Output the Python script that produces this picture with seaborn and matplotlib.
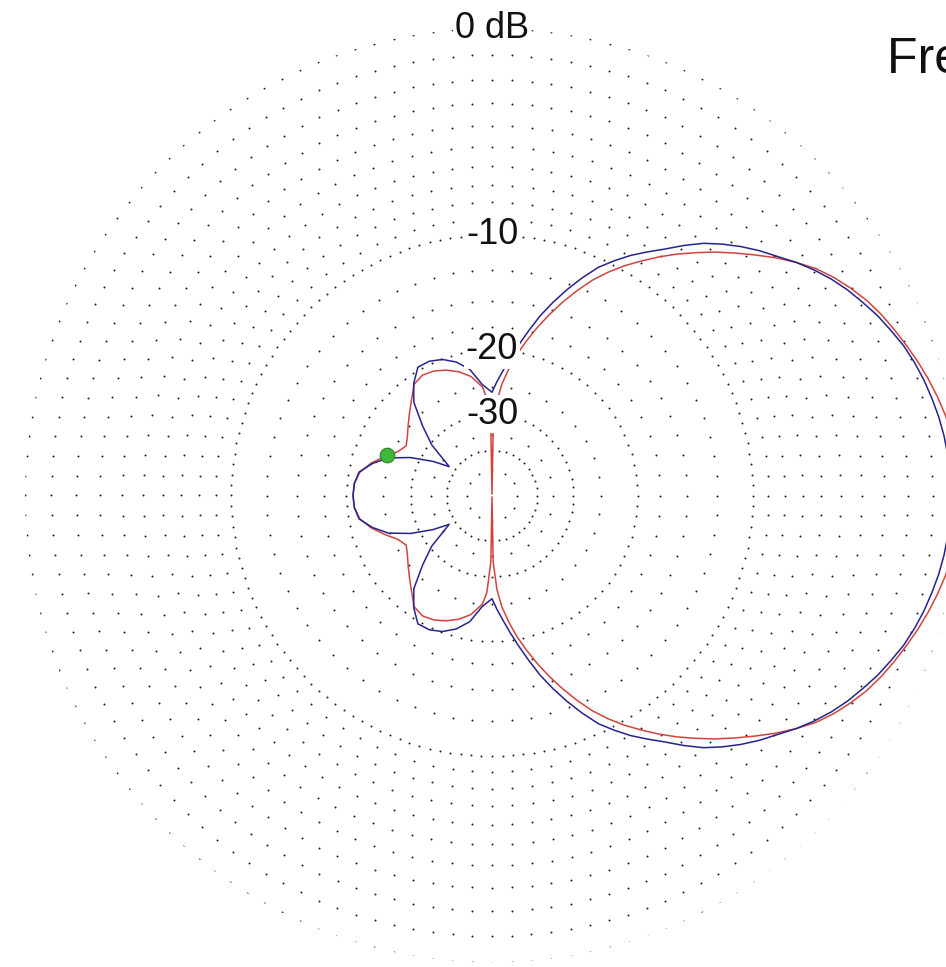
import numpy as np
import pandas as pd
import matplotlib
matplotlib.use("Agg")
import matplotlib.pyplot as plt
import seaborn as sns

sns.set_theme(style="white")
plt.rcParams['font.family'] = ['Liberation Sans', 'DejaVu Sans']

# Azimuth pattern, trace 1 (blue): angle in degrees, gain in dB re. outer ring
blue_az_top = [0, 2.5, 5, 7.5, 10, 12.5, 15, 17.5, 20, 22.5, 25, 27.5, 30, 32.5,
               35, 37.5, 40, 42.5, 45, 47.5, 50, 52.5, 55, 57.5, 60, 62.5, 65,
               67.5, 70, 72.5, 75, 77.5, 80, 82.5, 85, 87.5, 90,
               95, 100, 105, 110, 115, 120, 125, 130, 135, 140, 146, 150, 155,
               160, 165, 170, 175, 180]
blue_db_top = [-0.30, -0.31, -0.35, -0.41, -0.50, -0.62, -0.75, -0.91, -1.10,
               -1.35, -1.60, -1.90, -2.20, -2.55, -2.95, -3.40, -3.90, -4.35,
               -4.85, -5.40, -6.00, -6.75, -7.55, -8.25, -8.95, -9.75, -10.6,
               -11.75, -13.0, -14.35, -15.8, -17.5, -19.2, -20.9, -22.6, -24.2,
               -25.9,
               -24.6, -22.2, -20.9, -20.1, -19.7, -19.7, -21.1, -23.1, -26.8,
               -30.6, -37.8, -33.0, -28.3, -24.8, -22.8, -21.3, -20.9, -20.8]
blue_az_bottom = [185, 190, 195, 200, 205, 210, 214, 220, 225, 230, 235, 240,
                  245, 250, 255, 260, 265, 270,
                  272.5, 275, 277.5, 280, 282.5, 285, 287.5, 290, 292.5, 295,
                  297.5, 300, 302.5, 305, 307.5, 310, 312.5, 315, 317.5, 320,
                  322.5, 325, 327.5, 330, 332.5, 335, 337.5, 340, 342.5, 345,
                  347.5, 350, 352.5, 355, 357.5, 360]
blue_db_bottom = [-20.9, -21.3, -22.8, -24.8, -28.3, -33.0, -37.8, -30.6, -26.8,
                  -23.1, -21.1, -19.7, -19.7, -20.1, -20.9, -22.2, -24.6, -25.9,
                  -24.2, -22.6, -20.9, -19.2, -17.5, -15.8, -14.35, -13.0,
                  -11.75, -10.6, -9.75, -8.95, -8.25, -7.55, -6.75, -6.00,
                  -5.40, -4.85, -4.35, -3.90, -3.40, -2.95, -2.55, -2.20, -1.90,
                  -1.60, -1.35, -1.10, -0.91, -0.75, -0.62, -0.50, -0.41, -0.35,
                  -0.31, -0.30]

# Azimuth pattern, trace 2 (red)
red_az_top = [0, 2.5, 5, 7.5, 10, 12.5, 15, 17.5, 20, 22.5, 25, 27.5, 30, 32.5,
              35, 37.5, 40, 42.5, 45, 47.5, 50, 52.5, 55, 57.5, 60, 62.5, 65,
              67.5, 70, 72.5, 75, 77.5, 80, 82.5, 85,
              87, 89, 90, 91, 93,
              95, 100, 105, 110, 115, 120, 125, 130, 135, 140, 145, 150, 155,
              160, 165, 170, 175, 180]
red_db_top = [0.0, -0.02, -0.06, -0.14, -0.24, -0.40, -0.58, -0.78, -1.0,
              -1.22, -1.45, -1.72, -2.05, -2.42, -2.85, -3.40, -4.0, -4.65,
              -5.3, -5.95, -6.65, -7.35, -8.1, -8.9, -9.7, -10.6, -11.6, -12.8,
              -14.1, -15.5, -17.0, -18.6, -20.3, -22.3, -24.6,
              -27.5, -33.5, -100.0, -33.5, -27.0,
              -25.0, -23.2, -22.2, -21.5, -21.0, -20.8, -21.2, -22.6, -23.8,
              -24.9, -25.9, -26.6, -25.8, -24.2, -22.6, -21.4, -20.9, -20.8]
red_az_bottom = [185, 190, 195, 200, 205, 210, 215, 220, 225, 230, 235, 240,
                 245, 250, 255, 260, 265,
                 267, 269, 270, 271, 273,
                 275, 277.5, 280, 282.5, 285, 287.5, 290, 292.5, 295, 297.5,
                 300, 302.5, 305, 307.5, 310, 312.5, 315, 317.5, 320, 322.5,
                 325, 327.5, 330, 332.5, 335, 337.5, 340, 342.5, 345, 347.5,
                 350, 352.5, 355, 357.5, 360]
red_db_bottom = [-20.9, -21.4, -22.6, -24.2, -25.8, -26.6, -25.9, -24.9, -23.8,
                 -22.6, -21.2, -20.8, -21.0, -21.5, -22.2, -23.2, -25.0,
                 -27.0, -33.5, -100.0, -33.5, -27.5,
                 -24.6, -22.3, -20.3, -18.6, -17.0, -15.5, -14.1, -12.8, -11.6,
                 -10.6, -9.7, -8.9, -8.1, -7.35, -6.65, -5.95, -5.3, -4.65,
                 -4.0, -3.40, -2.85, -2.42, -2.05, -1.72, -1.45, -1.22, -1.0,
                 -0.78, -0.58, -0.40, -0.24, -0.14, -0.06, -0.02, 0.0]

# Cursor position on trace 1
marker_az = 158.7
marker_db = -24.4

# Grid rings (dB) and their labels
ring_db = [0, -1, -2, -3, -4, -5, -6, -7, -8, -9, -10, -12.5, -15, -17.5,
           -20, -25, -30, -35, -40, -50]
dense_rings = [-10, -20, -30, -40]
ring_labels = ["0 dB", "-10", "-20", "-30"]
label_db = [0, -10, -20, -30]

title_text = "Free Space"


def arrl(db):
    """ARRL log-periodic radial scale: radius shrinks by 0.89 every 2 dB."""
    return 0.89 ** (-np.asarray(db, dtype=float) / 2.0)


W, H = 946, 967
fig = plt.figure(figsize=(W / 100, H / 100), dpi=100)
fig.patch.set_facecolor("white")

cx, cy, R = 492.0, 495.5, 467.0
ax = fig.add_axes([(cx - R) / W, (H - cy - R) / H, 2 * R / W, 2 * R / H],
                  projection="polar")
ax.set_facecolor("white")
ax.set_ylim(0, 1)
ax.grid(False)
ax.set_xticks([])
ax.set_yticks([])
ax.spines["polar"].set_visible(False)

# dotted rings
for db in ring_db:
    rr = float(arrl(db))
    if db in dense_rings:
        spacing = 10.5 if rr * R > 120 else (8.5 if rr * R > 60 else 6.8)
    else:
        spacing = 20.0 if rr * R > 60 else 12.0
    n = max(4, 4 * int(round(2 * np.pi * rr * R / (4 * spacing))))
    th = np.linspace(0, 2 * np.pi, n, endpoint=False)
    ax.scatter(th, np.full(n, rr), s=2.0, c="#1c1c1c", linewidths=0, zorder=1)


def trace_frame(az_top, db_top, az_bot, db_bot):
    az = np.concatenate([az_top, az_bot])
    db = np.concatenate([db_top, db_bot])
    return pd.DataFrame({"theta": np.deg2rad(az), "r": arrl(db)})


red_df = trace_frame(red_az_top, red_db_top, red_az_bottom, red_db_bottom)
blue_df = trace_frame(blue_az_top, blue_db_top, blue_az_bottom, blue_db_bottom)

# pattern traces
sns.lineplot(data=red_df, x="theta", y="r", ax=ax, sort=False, estimator=None,
             color="#d0443e", lw=1.1, zorder=3)
sns.lineplot(data=blue_df, x="theta", y="r", ax=ax, sort=False, estimator=None,
             color="#25238c", lw=1.1, zorder=4)
ax.set_xlabel("")
ax.set_ylabel("")

# cursor marker
ax.scatter([np.deg2rad(marker_az)], [arrl(marker_db)], s=110, c="#3db83a",
           edgecolors="#2c7f2a", linewidths=0.8, zorder=6)

# ring labels on the top of the rings
for lab, db in zip(ring_labels, label_db):
    ax.text(np.pi / 2, float(arrl(db)), lab, ha="center", va="center",
            fontsize=26, color="#111111", zorder=5,
            bbox=dict(facecolor="white", edgecolor="none", pad=1.0))

fig.text(887 / W, 1 - 73 / H, title_text, ha="left", va="baseline",
         fontsize=36, color="#111111")

fig.savefig("out.png", dpi=100, facecolor="white")
